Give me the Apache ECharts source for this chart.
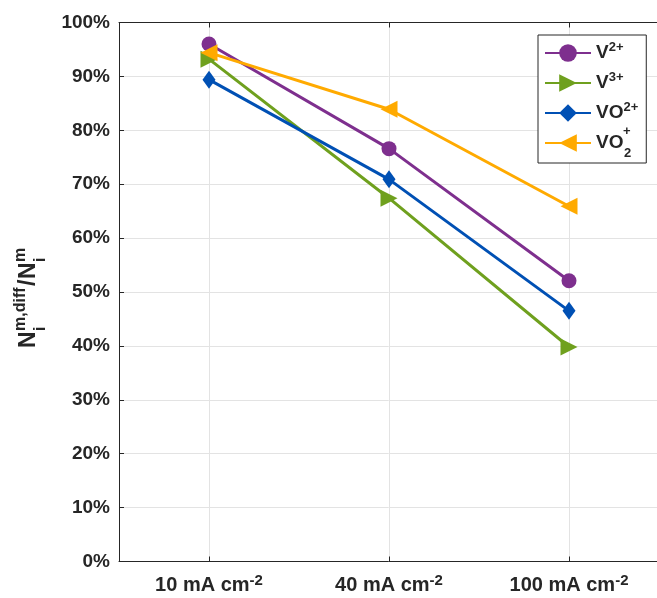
<!DOCTYPE html>
<html><head><meta charset="utf-8">
<script src="https://cdn.jsdelivr.net/npm/echarts@6/dist/echarts.min.js"></script>
<style>html,body{margin:0;padding:0;background:#fff}#c{width:657px;height:598px}</style>
</head><body><div id="c"></div>
<script>
// ---- data ----
const categories = ['10 mA cm-2', '40 mA cm-2', '100 mA cm-2'];
const ionNames = ['V^2+', 'V^3+', 'VO^2+', 'VO_2^+'];
const v2Values = [96.0, 76.6, 52.1];
const v3Values = [93.2, 67.4, 39.8];
const vo2Values = [89.4, 70.9, 46.5];
const vo2pValues = [94.4, 83.9, 65.9];
const yTicks = { min: 0, max: 100, step: 10 };

// ---- styling ----
const FONT = "'Liberation Sans', Arial, Helvetica, sans-serif";
const TXT = '#262626';
const GRID = '#e3e3e3';
const colors = ['#7E2F8E', '#6FA01E', '#0050B4', '#FFAA00'];

const chart = echarts.init(document.getElementById('c'), null, { renderer: 'canvas' });

const xRich = {
  b: { fontFamily: FONT, fontSize: 20, fontWeight: 'bold', color: TXT, lineHeight: 22, verticalAlign: 'bottom' },
  sup: { fontFamily: FONT, fontSize: 15, fontWeight: 'bold', color: TXT, lineHeight: 14, verticalAlign: 'top' }
};
const legRich = {
  b: { fontFamily: FONT, fontSize: 19, fontWeight: 'bold', color: TXT, lineHeight: 24, height: 24, verticalAlign: 'bottom' },
  sup: { fontFamily: FONT, fontSize: 13, fontWeight: 'bold', color: TXT, lineHeight: 13, verticalAlign: 'top' }
};

// Legend text: base + superscript (stacked sub/sup drawn separately)
function legendLabel(name) {
  const us = name.indexOf('_');
  const ca = name.indexOf('^');
  if (us >= 0) return '{b|' + name.slice(0, us) + '}{sup|\u200b}';
  return '{b|' + name.slice(0, ca) + '}{sup|' + name.slice(ca + 1) + '}';
}

const symbols = [
  { symbol: 'circle', symbolSize: 15, symbolRotate: 0 },
  { symbol: 'triangle', symbolSize: 17, symbolRotate: -90 },
  { symbol: 'diamond', symbolSize: [13, 18], symbolRotate: 0 },
  { symbol: 'triangle', symbolSize: 17, symbolRotate: 90 }
];
const valueSets = [v2Values, v3Values, vo2Values, vo2pValues];

const series = ionNames.map((n, i) => ({
  name: n,
  type: 'line',
  data: valueSets[i],
  symbol: symbols[i].symbol,
  symbolSize: symbols[i].symbolSize,
  symbolRotate: symbols[i].symbolRotate,
  showAllSymbol: true,
  lineStyle: { color: colors[i], width: 3 },
  itemStyle: { color: colors[i], borderWidth: 0 },
  emphasis: { disabled: true },
  animation: false,
  z: 2 + i
}));

const txt = (t, x, y, size) => ({ type: 'text', x: x, y: y, style: { text: t, font: 'bold ' + size + 'px ' + FONT, fill: TXT, align: 'left', verticalAlign: 'bottom' } });

chart.setOption({
  animation: false,
  backgroundColor: '#fff',
  grid: { left: 119, right: -2, top: 22.5, bottom: 36.5, containLabel: false, outerBoundsMode: 'none' },
  xAxis: [{
    type: 'category',
    data: categories,
    position: 'bottom',
    boundaryGap: true,
    axisLine: { show: true, lineStyle: { color: TXT, width: 1 } },
    axisTick: { show: true, inside: true, length: 5, alignWithLabel: true, lineStyle: { color: TXT } },
    splitLine: { show: true, alignWithLabel: true, lineStyle: { color: GRID, width: 1 } },
    axisLabel: {
      margin: 12,
      formatter: v => { const k = v.indexOf('cm') + 2; return '{b|' + v.slice(0, k) + '}{sup|' + v.slice(k) + '}'; },
      rich: xRich
    }
  }, {
    type: 'category',
    data: categories,
    position: 'top',
    boundaryGap: true,
    axisLine: { show: true, lineStyle: { color: TXT, width: 1 } },
    axisTick: { show: true, inside: true, length: 5, alignWithLabel: true, lineStyle: { color: TXT } },
    splitLine: { show: false },
    axisLabel: { show: false }
  }],
  yAxis: {
    type: 'value',
    min: yTicks.min,
    max: yTicks.max,
    interval: yTicks.step,
    axisLine: { show: true, lineStyle: { color: TXT, width: 1 } },
    axisTick: { show: true, inside: true, length: 5, lineStyle: { color: TXT } },
    splitLine: { show: true, lineStyle: { color: GRID, width: 1 } },
    axisLabel: { margin: 9, formatter: v => v + '%', fontFamily: FONT, fontSize: 19, fontWeight: 'bold', color: TXT }
  },
  legend: {
    orient: 'vertical',
    left: 538,
    top: 35,
    padding: [6, 8, 8, 6],
    itemGap: 6,
    itemWidth: 46,
    itemHeight: 22,
    borderColor: TXT,
    borderWidth: 1,
    backgroundColor: '#fff',
    borderRadius: 0,
    data: ionNames,
    formatter: legendLabel,
    textStyle: { rich: legRich },
    selectedMode: false
  },
  graphic: [
    { type: 'text', left: 623, top: 125, z: 100, style: { text: '+', font: 'bold 13px ' + FONT, fill: TXT } },
    { type: 'text', left: 624, top: 147, z: 100, style: { text: '2', font: 'bold 13px ' + FONT, fill: TXT } },
    {
      type: 'group', x: 40, y: 348, rotation: Math.PI / 2,
      children: [
        txt('N', 0, 0, 23),
        txt('m,diff', 17, -11.6, 16),
        txt('i', 17, 9, 16),
        txt('/', 62, 0, 23),
        txt('N', 69, 0, 23),
        txt('m', 86, -11.6, 16),
        txt('i', 86, 9, 16)
      ]
    }
  ],
  series: series
});
</script></body></html>
